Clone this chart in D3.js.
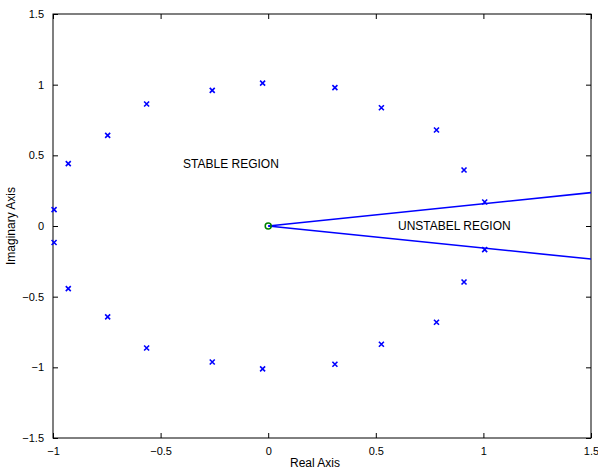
<!DOCTYPE html>
<html lang="en">
<head>
    <meta charset="utf-8">
    <title>Root locus: stable and unstable regions</title>
    <script src="https://d3js.org/d3.v7.min.js"></script>
    <style type="text/css">
        body { margin: 0; background: #fff; }
        svg text { font-family: "Liberation Sans", Arial, sans-serif; fill: #000; }
    </style>
</head>
<body>
    <script type="text/javascript">

        // Width and height of the page
        var w = 598;
        var h = 470;

        // plot box (pixels)
        var boxL = 53, boxR = 591, boxT = 14, boxB = 438;

        // tick values
        var xTicks = [-1, -0.5, 0, 0.5, 1, 1.5];
        var yTicks = [-1.5, -1, -0.5, 0, 0.5, 1, 1.5];

        // poles (x markers)
        var poleRe = [-0.995, -0.929, -0.746, -0.565, -0.260, -0.026, 0.310, 0.526, 0.782, 0.910, 1.006,
                      -0.995, -0.929, -0.746, -0.565, -0.260, -0.026, 0.310, 0.526, 0.782, 0.910, 1.006];
        var poleIm = [0.116, 0.441, 0.641, 0.863, 0.960, 1.011, 0.979, 0.837, 0.679, 0.396, 0.170,
                      -0.117, -0.443, -0.643, -0.863, -0.962, -1.011, -0.978, -0.837, -0.681, -0.396, -0.167];

        // zero (green circle)
        var zeroRe = [0];
        var zeroIm = [0];

        // boundary lines of the unstable wedge
        var upperX = [0, 1.5], upperY = [0, 0.236];
        var lowerX = [0, 1.5], lowerY = [0, -0.234];

        var xScale = d3.scaleLinear().domain([-1, 1.5]).range([boxL, boxR]);
        var yScale = d3.scaleLinear().domain([-1.5, 1.5]).range([boxB, boxT]);

        var svg = d3.select("body")
            .append("svg")
            .attr("width", w)
            .attr("height", h);

        svg.append("defs").append("clipPath")
            .attr("id", "plotclip")
            .append("rect")
            .attr("x", boxL).attr("y", boxT)
            .attr("width", boxR - boxL).attr("height", boxB - boxT);

        var fmt = d3.format("~g");

        // axes, ticks pointing inward on all four sides
        svg.append("g")
            .attr("class", "ax")
            .attr("transform", "translate(0," + boxB + ")")
            .call(d3.axisBottom(xScale).tickValues(xTicks).tickFormat(fmt).tickSizeInner(-5).tickSizeOuter(0).tickPadding(9));
        svg.append("g")
            .attr("class", "ax")
            .attr("transform", "translate(0," + boxT + ")")
            .call(d3.axisTop(xScale).tickValues(xTicks).tickFormat("").tickSizeInner(-5).tickSizeOuter(0));
        svg.append("g")
            .attr("class", "ax")
            .attr("transform", "translate(" + boxL + ",0)")
            .call(d3.axisLeft(yScale).tickValues(yTicks).tickFormat(fmt).tickSizeInner(-5).tickSizeOuter(0).tickPadding(9));
        svg.append("g")
            .attr("class", "ax")
            .attr("transform", "translate(" + boxR + ",0)")
            .call(d3.axisRight(yScale).tickValues(yTicks).tickFormat("").tickSizeInner(-5).tickSizeOuter(0));

        svg.selectAll(".ax .domain").remove();
        svg.selectAll(".ax line").attr("stroke", "#000");
        svg.selectAll(".ax text")
            .attr("font-size", "11px")
            .attr("font-family", "Liberation Sans, Arial, sans-serif")
            .attr("fill", "#000");

        // frame
        svg.append("rect")
            .attr("x", boxL).attr("y", boxT)
            .attr("width", boxR - boxL).attr("height", boxB - boxT)
            .attr("fill", "none")
            .attr("stroke", "#000")
            .attr("stroke-width", 1);

        var plot = svg.append("g").attr("clip-path", "url(#plotclip)");

        var line = d3.line()
            .x(function (d) { return xScale(d[0]); })
            .y(function (d) { return yScale(d[1]); });

        plot.append("path")
            .datum(d3.zip(upperX, upperY))
            .attr("d", line)
            .attr("fill", "none")
            .attr("stroke", "#0000ff")
            .attr("stroke-width", 1.6);
        plot.append("path")
            .datum(d3.zip(lowerX, lowerY))
            .attr("d", line)
            .attr("fill", "none")
            .attr("stroke", "#0000ff")
            .attr("stroke-width", 1.6);

        // x markers
        var s = 2.5;
        svg.selectAll("path.pole")
            .data(d3.zip(poleRe, poleIm))
            .enter()
            .append("path")
            .attr("class", "pole")
            .attr("d", function (d) {
                var cx = xScale(d[0]), cy = yScale(d[1]);
                return "M" + (cx - s) + "," + (cy - s) + "L" + (cx + s) + "," + (cy + s) +
                       "M" + (cx - s) + "," + (cy + s) + "L" + (cx + s) + "," + (cy - s);
            })
            .attr("stroke", "#0000ff")
            .attr("stroke-width", 1.6)
            .attr("fill", "none");

        // zero marker
        svg.selectAll("circle.zero")
            .data(d3.zip(zeroRe, zeroIm))
            .enter()
            .append("circle")
            .attr("class", "zero")
            .attr("cx", function (d) { return xScale(d[0]); })
            .attr("cy", function (d) { return yScale(d[1]); })
            .attr("r", 3)
            .attr("fill", "none")
            .attr("stroke", "#008000")
            .attr("stroke-width", 1.5);

        // region labels
        svg.append("text")
            .attr("x", 183).attr("y", 168)
            .attr("font-size", "12px")
            .text("STABLE REGION");
        svg.append("text")
            .attr("x", 398).attr("y", 230)
            .attr("font-size", "12px")
            .text("UNSTABEL REGION");

        // axis labels
        svg.append("text")
            .attr("x", 315).attr("y", 467)
            .attr("text-anchor", "middle")
            .attr("font-size", "12px")
            .text("Real Axis");
        svg.append("text")
            .attr("transform", "translate(15,226) rotate(-90)")
            .attr("text-anchor", "middle")
            .attr("font-size", "12px")
            .text("Imaginary Axis");

    </script>
</body>
</html>
